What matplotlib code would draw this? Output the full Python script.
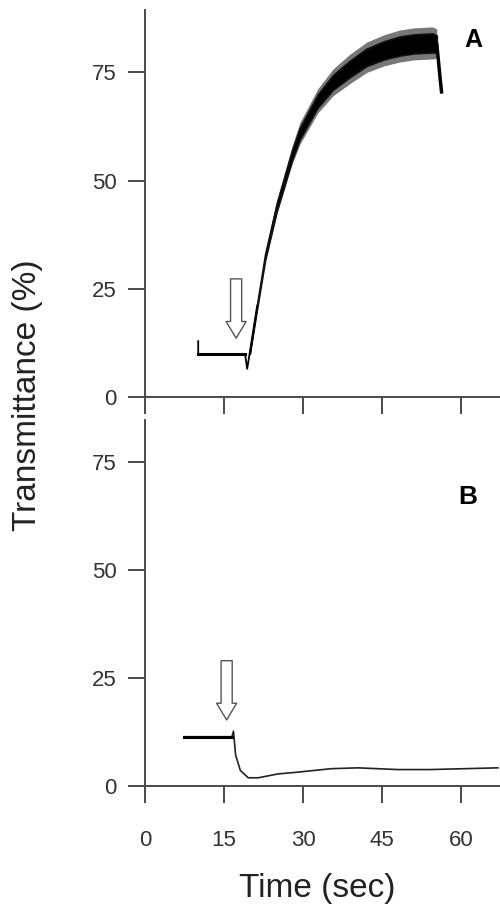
import numpy as np
import matplotlib.pyplot as plt

#======================================
#           data
#======================================
# panel A : thin trace (baseline + start of rise)
a_line_t = [10.1, 10.1, 19.0, 19.4, 19.9, 21.3]
a_line_v = [12.9, 9.9, 9.9, 6.5, 10.3, 21.1]
# panel A : noisy band of the rise (time, lower, upper), dark core and fuzzy edge
a_band_t  = [19.9, 21.3, 22.8, 25.0, 27.9, 29.4, 32.8, 35.7, 38.9, 42.1, 45.4, 48.4, 51.2, 54.6, 55.4]
a_band_lo = [10.0, 20.6, 31.6, 42.9, 54.7, 59.6, 66.9, 71.0, 73.9, 76.5, 78.0, 78.9, 79.4, 79.6, 79.5]
a_band_hi = [10.6, 21.6, 33.0, 44.7, 56.9, 62.2, 69.9, 74.4, 77.7, 80.5, 82.2, 83.3, 83.8, 84.0, 83.5]
a_fuzz_lo = [9.9, 20.3, 31.1, 42.2, 53.7, 58.4, 65.6, 69.6, 72.4, 75.0, 76.5, 77.4, 77.9, 78.1, 78.3]
a_fuzz_hi = [10.7, 21.9, 33.5, 45.4, 57.9, 63.4, 71.2, 75.8, 79.2, 82.0, 83.7, 84.8, 85.3, 85.5, 85.0]
# panel A : drop at the end
a_end_t = [55.4, 55.7, 56.0, 56.3]
a_end_v = [81.5, 77.8, 74.0, 70.5]

# panel B
b_t = [7.4, 16.5, 16.8, 17.2, 18.1, 19.6, 21.5, 25.3, 29.0, 35.3, 40.4, 48.0, 54.0, 60.5, 67.0]
b_v = [11.4, 11.4, 12.7, 7.2, 3.6, 1.9, 1.9, 2.8, 3.2, 4.0, 4.2, 3.8, 3.8, 4.0, 4.2]

# arrows (x, tail value, tip value)
arrow_a = (17.3, 27.3, 13.6)
arrow_b = (15.5, 29.0, 15.3)

x_ticks = [0, 15, 30, 45, 60]
y_ticks = [0, 25, 50, 75]

#======================================
#           plot
#======================================
plt.rcParams['font.family'] = ['Liberation Sans', 'DejaVu Sans']
axc = '#4a4a4a'

fig = plt.figure( figsize=(5, 9.05), dpi=100)
ax_a = fig.add_axes( [0.29, 0.5613, 0.71, 0.4276])
ax_b = fig.add_axes( [0.29, 0.1315, 0.71, 0.4044])

def style_ax( ax, ytop, xlabels):
    ax.set_xlim( 0, 67.4)
    ax.set_ylim( 0, ytop)
    ax.set_xticks( x_ticks)
    ax.set_yticks( y_ticks)
    for s in ['top', 'right']:
        ax.spines[s].set_visible( False)
    for s in ['left', 'bottom']:
        ax.spines[s].set_color( axc)
        ax.spines[s].set_linewidth( 1.4)
    ax.tick_params( axis='both', direction='out', length=12.5, width=1.4,
                    color=axc, labelsize=16, labelcolor='#333333')
    ax.tick_params( axis='x', pad=19, labelbottom=xlabels)
    ax.tick_params( axis='y', pad=8)

style_ax( ax_a, 89.4, False)
style_ax( ax_b, 84.7, True)

# panel A
ax_a.plot( a_line_t, a_line_v, color='black', lw=1.3)
ax_a.plot( a_line_t[1:3], a_line_v[1:3], color='black', lw=2.2)
ax_a.fill_between( a_band_t, a_fuzz_lo, a_fuzz_hi, color='#777777', lw=0)
ax_a.fill_between( a_band_t, a_band_lo, a_band_hi, color='black', lw=1.2, edgecolor='#111111')
ax_a.plot( a_end_t, a_end_v, color='black', lw=2.5)

# panel B
ax_b.plot( b_t, b_v, color='#222222', lw=1.2)
ax_b.plot( b_t[:2], b_v[:2], color='black', lw=2.2)

# arrows
for ax, (xa, v0, v1) in [( ax_a, arrow_a), ( ax_b, arrow_b)]:
    ax.annotate( '', xy=( xa, v1), xytext=( xa, v0),
                 arrowprops=dict( arrowstyle='simple,head_length=1.2,head_width=1.45,tail_width=0.8',
                                  mutation_scale=10, fc='white', ec='#555555', lw=1.0,
                                  shrinkA=0, shrinkB=0))

# panel letters
fig.text( 473/500, 1-40/905, 'A', fontsize=18, fontweight='bold', ha='center', va='center')
fig.text( 468/500, 1-497/905, 'B', fontsize=19, fontweight='bold', ha='center', va='center')

# axis labels
fig.text( 28/500, 1-395/905, 'Transmittance (%)', fontsize=24, rotation=90,
          ha='center', va='center', color='#222222')
fig.text( 317/500, 8/905, 'Time (sec)', fontsize=24, ha='center', va='baseline',
          color='#222222')

plt.savefig( 'out.png', dpi=100)
